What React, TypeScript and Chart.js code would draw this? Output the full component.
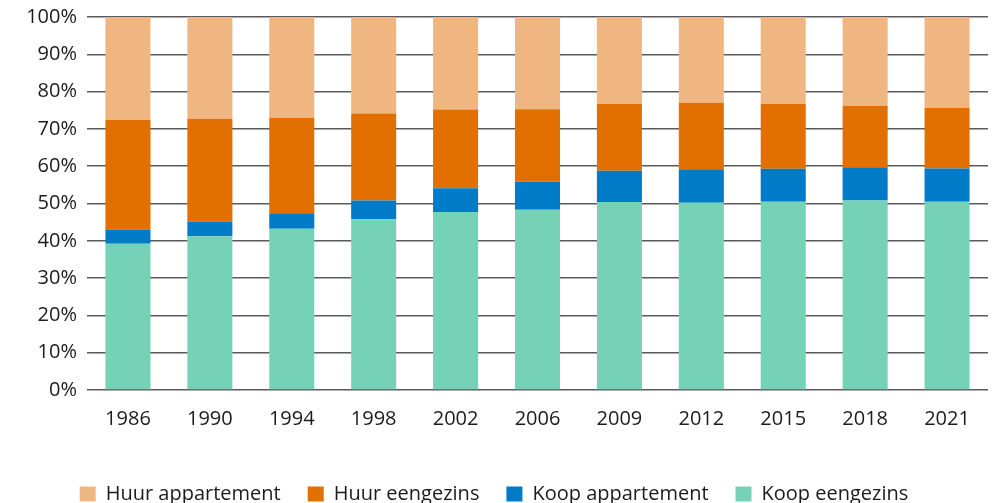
import React, { useEffect, useRef } from "react";
import { Chart, registerables } from "chart.js";

Chart.register(...registerables);

const years = ["1986", "1990", "1994", "1998", "2002", "2006", "2009", "2012", "2015", "2018", "2021"];
const koopEengezins = [39.2, 41.2, 43.2, 45.8, 47.7, 48.3, 50.4, 50.2, 50.5, 50.8, 50.5];
const koopAppartement = [3.8, 4.0, 4.2, 5.0, 6.4, 7.5, 8.4, 9.0, 8.8, 8.9, 8.9];
const huurEengezins = [29.4, 27.5, 25.6, 23.3, 21.1, 19.5, 17.9, 17.8, 17.4, 16.5, 16.3];
const huurAppartement = [27.6, 27.3, 27.0, 25.9, 24.8, 24.7, 23.3, 23.0, 23.3, 23.8, 24.3];

const FONT = "'Open Sans', sans-serif";
const TEXT = "#1c1c1c";

export default function App() {
  const ref = useRef<HTMLCanvasElement | null>(null);
  useEffect(() => {
    if (!ref.current) return;
    const chart = new Chart(ref.current, {
      type: "bar",
      data: {
        labels: years,
        datasets: [
          { label: "Koop eengezins", data: koopEengezins, backgroundColor: "#76D2B6" },
          { label: "Koop appartement", data: koopAppartement, backgroundColor: "#007BC7" },
          { label: "Huur eengezins", data: huurEengezins, backgroundColor: "#E17000" },
          { label: "Huur appartement", data: huurAppartement, backgroundColor: "#F0B682" },
        ],
      },
      options: {
        animation: false,
        responsive: true,
        maintainAspectRatio: false,
        datasets: { bar: { barPercentage: 0.55, categoryPercentage: 1 } },
        layout: { padding: { top: 17, right: 6, bottom: -11, left: 0 } },
        plugins: {
          tooltip: { enabled: false },
          legend: {
            position: "bottom",
            reverse: true,
            labels: {
              boxWidth: 16,
              boxHeight: 15,
              padding: 27,
              color: TEXT,
              font: { family: FONT, size: 20 },
            },
          },
        },
        scales: {
          x: {
            stacked: true,
            grid: { display: false, drawTicks: false },
            border: { display: false },
            ticks: { color: TEXT, font: { family: FONT, size: 20 }, padding: 17, maxRotation: 0 },
            afterFit: (s: any) => { s.height = 67; },
          },
          y: {
            stacked: true,
            min: 0,
            max: 100,
            grid: { color: "#5a5a5a", lineWidth: 1.5, drawTicks: false },
            border: { display: false },
            ticks: {
              stepSize: 10,
              color: TEXT,
              padding: 10,
              font: { family: FONT, size: 20 },
              callback: (v: any) => v + "%",
            },
            afterFit: (s: any) => { s.width = 87; s.paddingTop = 0; s.paddingBottom = 0; },
          },
        },
      },
    });
    return () => chart.destroy();
  }, []);
  return (
    <div style={{ position: "absolute", left: 0, top: 0, width: 994, height: 503 }}>
      <canvas ref={ref} />
    </div>
  );
}
